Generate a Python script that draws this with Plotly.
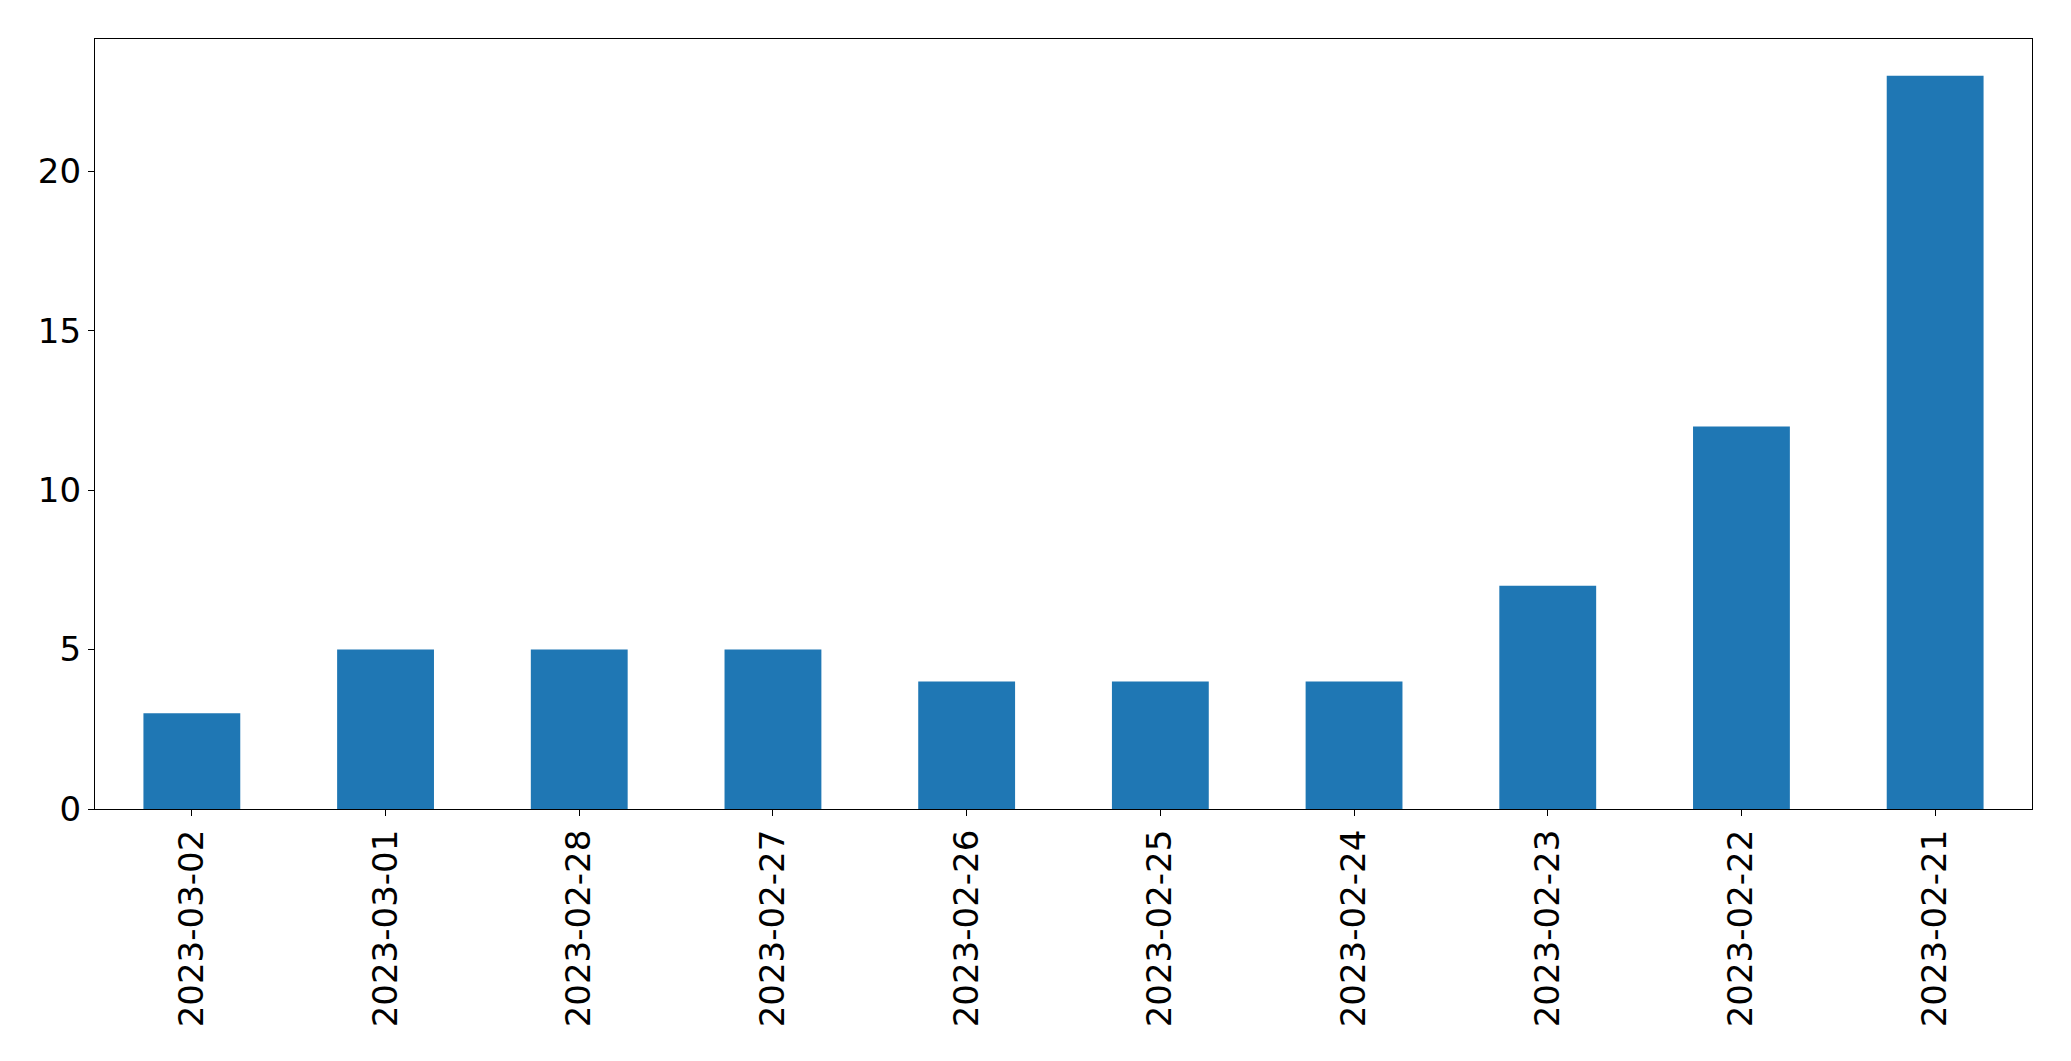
import plotly.graph_objects as go

dates = ["2023-03-02", "2023-03-01", "2023-02-28", "2023-02-27", "2023-02-26",
         "2023-02-25", "2023-02-24", "2023-02-23", "2023-02-22", "2023-02-21"]
counts = [3, 5, 5, 5, 4, 4, 4, 7, 12, 23]
y_ticks = [0, 5, 10, 15, 20]

fig = go.Figure(go.Bar(x=dates, y=counts, width=0.5, marker_color="#1f77b4",
                       marker_line_width=0))

axis_common = dict(showline=True, linecolor="black", linewidth=1.2, mirror=True,
                   ticks="outside", ticklen=6, tickwidth=1.2, tickcolor="black",
                   showgrid=False, zeroline=False,
                   tickfont=dict(family="DejaVu Sans", size=34, color="black"))

fig.update_layout(
    width=2071, height=1061,
    margin=dict(l=95, r=39, t=39, b=252, autoexpand=False),
    plot_bgcolor="white", paper_bgcolor="white",
    showlegend=False,
    xaxis=dict(type="category", range=[-0.5, 9.5], tickangle=-90, **axis_common),
    yaxis=dict(range=[0, 23 * 1.05], tickvals=y_ticks, **axis_common),
)

fig.write_html("out.html")
